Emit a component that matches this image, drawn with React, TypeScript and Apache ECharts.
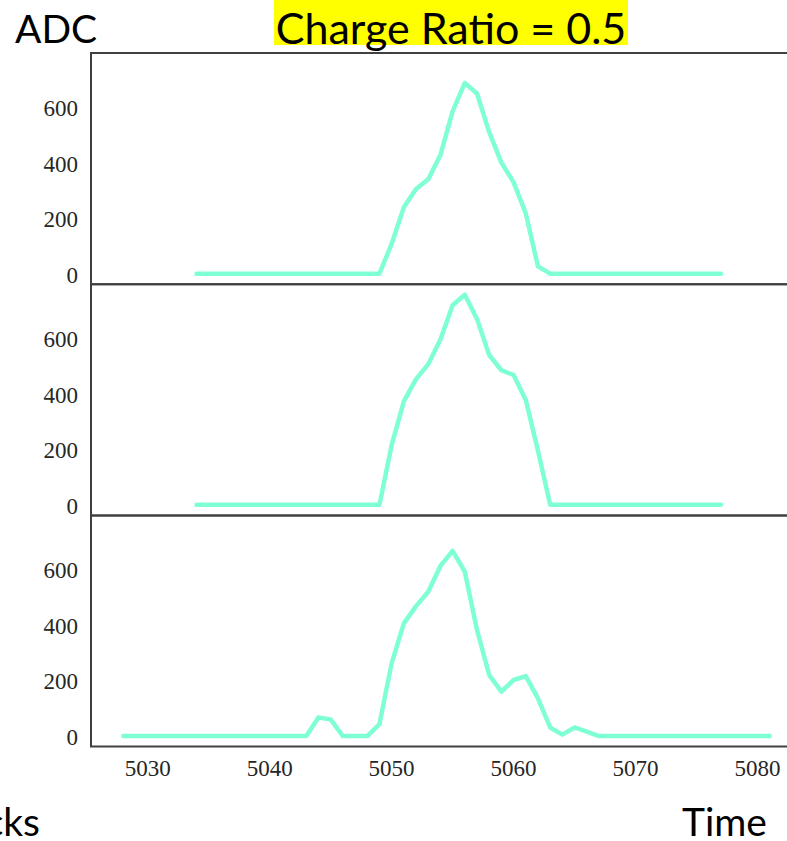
import React, { useEffect, useRef } from "react";
import * as echarts from "echarts";

// Sample times (clock ticks) and ADC values of the three stacked waveforms
const timesTop = [
  5034, 5035, 5036, 5037, 5038, 5039, 5040, 5041, 5042, 5043, 5044, 5045, 5046, 5047, 5048, 5049,
  5050, 5051, 5052, 5053, 5054, 5055, 5056, 5057, 5058, 5059, 5060, 5061, 5062, 5063,
  5064, 5065, 5066, 5067, 5068, 5069, 5070, 5071, 5072, 5073, 5074, 5075, 5076, 5077,
];
const adcTop = [
  5, 5, 5, 5, 5, 5, 5, 5, 5, 5, 5, 5, 5, 5, 5, 5,
  112, 244, 310, 345, 432, 590, 692, 654, 515, 405, 334, 222, 31, 5,
  5, 5, 5, 5, 5, 5, 5, 5, 5, 5, 5, 5, 5, 5,
];

const timesMid = [
  5034, 5035, 5036, 5037, 5038, 5039, 5040, 5041, 5042, 5043, 5044, 5045, 5046, 5047, 5048, 5049,
  5050, 5051, 5052, 5053, 5054, 5055, 5056, 5057, 5058, 5059, 5060, 5061, 5062, 5063,
  5064, 5065, 5066, 5067, 5068, 5069, 5070, 5071, 5072, 5073, 5074, 5075, 5076, 5077,
];
const adcMid = [
  5, 5, 5, 5, 5, 5, 5, 5, 5, 5, 5, 5, 5, 5, 5, 5,
  220, 378, 458, 512, 601, 724, 762, 675, 545, 490, 473, 383, 200, 5,
  5, 5, 5, 5, 5, 5, 5, 5, 5, 5, 5, 5, 5, 5,
];

const timesBottom = [
  5028, 5029, 5030, 5031, 5032, 5033, 5034, 5035, 5036, 5037, 5038, 5039, 5040, 5041, 5042, 5043,
  5044, 5045, 5046, 5047, 5048, 5049, 5050, 5051, 5052, 5053, 5054, 5055, 5056, 5057, 5058,
  5059, 5060, 5061, 5062, 5063, 5064, 5065, 5066,
  5067, 5068, 5069, 5070, 5071, 5072, 5073, 5074, 5075, 5076, 5077, 5078, 5079, 5080, 5081,
];
const adcBottom = [
  5, 5, 5, 5, 5, 5, 5, 5, 5, 5, 5, 5, 5, 5, 5, 5,
  72, 65, 5, 5, 5, 48, 267, 411, 473, 525, 618, 672, 597, 387, 225,
  165, 207, 221, 141, 36, 10, 36, 21,
  5, 5, 5, 5, 5, 5, 5, 5, 5, 5, 5, 5, 5, 5, 5,
];

const yTickLabels = [0, 200, 400, 600];
const xTickLabels = [5030, 5040, 5050, 5060, 5070, 5080];

const titleText = "Charge Ratio = 0.5";
const yTitle = "ADC";
const xTitle = "Time";
const xTitleLeft = "Ticks";

const X_MIN = 5025.35;
const X_MAX = 5083.65;
const Y_MIN = -33;
const Y_MAX = 800;

const LINE_COLOR = "#7fffd4";
const SPINE_COLOR = "#404040";
const SERIF = "'Liberation Serif', 'DejaVu Serif', serif";
const SANS = "Lato, 'Open Sans', sans-serif";

// The canvas is a little wider than the window: the panels run past its right
// edge, so their right spine stays out of view
const CANVAS_W = 812;
const CANVAS_H = 841;
const panelLeft = 91;
const panelWidth = 711;
const panelTops = [53, 284.2, 515.4];
const panelHeight = 231.2;

function zip(xs: number[], ys: number[]) {
  return xs.map((x, i) => [x, ys[i]]);
}

export default function App() {
  const ref = useRef<HTMLDivElement>(null);

  useEffect(() => {
    if (!ref.current) return;
    const prevOverflow = document.documentElement.style.overflow;
    document.documentElement.style.overflow = "hidden";
    const chart = echarts.init(ref.current, undefined, { renderer: "svg" });

    const panels = [
      zip(timesTop, adcTop),
      zip(timesMid, adcMid),
      zip(timesBottom, adcBottom),
    ];

    const grid = panelTops.map((top) => ({
      left: panelLeft,
      width: panelWidth,
      top,
      height: panelHeight,
      show: true,
      borderColor: SPINE_COLOR,
      borderWidth: 2,
      backgroundColor: "transparent",
      containLabel: false,
    }));

    const xAxis = panelTops.map((_, i) => ({
      type: "value",
      gridIndex: i,
      min: X_MIN,
      max: X_MAX,
      axisLine: { show: false },
      axisTick: { show: false },
      splitLine: { show: false },
      axisLabel: {
        show: i === 2,
        margin: 10,
        color: "#262626",
        fontFamily: SERIF,
        fontSize: 23,
        formatter: (v: number) => (xTickLabels.includes(v) ? String(v) : ""),
      },
    }));

    const yAxis = panelTops.map((_, i) => ({
      type: "value",
      gridIndex: i,
      min: Y_MIN,
      max: Y_MAX,
      axisLine: { show: false },
      axisTick: { show: false },
      splitLine: { show: false },
      axisLabel: {
        margin: 13,
        color: "#262626",
        fontFamily: SERIF,
        fontSize: 23,
        formatter: (v: number) => (yTickLabels.includes(v) ? String(v) : ""),
      },
    }));

    const series = panels.map((data, i) => ({
      type: "line",
      xAxisIndex: i,
      yAxisIndex: i,
      data,
      showSymbol: false,
      symbol: "none",
      lineStyle: { color: LINE_COLOR, width: 4.5, cap: "round", join: "round" },
      emphasis: { disabled: true },
    }));

    chart.setOption({
      animation: false,
      backgroundColor: "#ffffff",
      grid,
      xAxis,
      yAxis,
      series,
      graphic: [
        {
          type: "rect",
          shape: { x: 274, y: 0, width: 354, height: 45 },
          style: { fill: "#ffff00" },
          z: 1,
        },
        {
          type: "text",
          x: 451,
          y: 27,
          z: 2,
          style: {
            text: titleText,
            fill: "#000",
            font: `43px ${SANS}`,
            textAlign: "center",
            textVerticalAlign: "middle",
          },
        },
        {
          type: "text",
          x: 15,
          y: 28,
          style: {
            text: yTitle,
            fill: "#000",
            font: `39px ${SANS}`,
            textAlign: "left",
            textVerticalAlign: "middle",
          },
        },
        {
          type: "text",
          x: 682,
          y: 821,
          style: {
            text: xTitle,
            fill: "#000",
            font: `39px ${SANS}`,
            textAlign: "left",
            textVerticalAlign: "middle",
          },
        },
        {
          type: "text",
          x: 40,
          y: 821,
          style: {
            text: xTitleLeft,
            fill: "#000",
            font: `39px ${SANS}`,
            textAlign: "right",
            textVerticalAlign: "middle",
          },
        },
      ],
    });

    return () => {
      chart.dispose();
      document.documentElement.style.overflow = prevOverflow;
    };
  }, []);

  return (
    <div
      ref={ref}
      style={{
        position: "fixed",
        left: 0,
        top: 0,
        width: CANVAS_W,
        height: CANVAS_H,
        background: "#fff",
      }}
    />
  );
}
